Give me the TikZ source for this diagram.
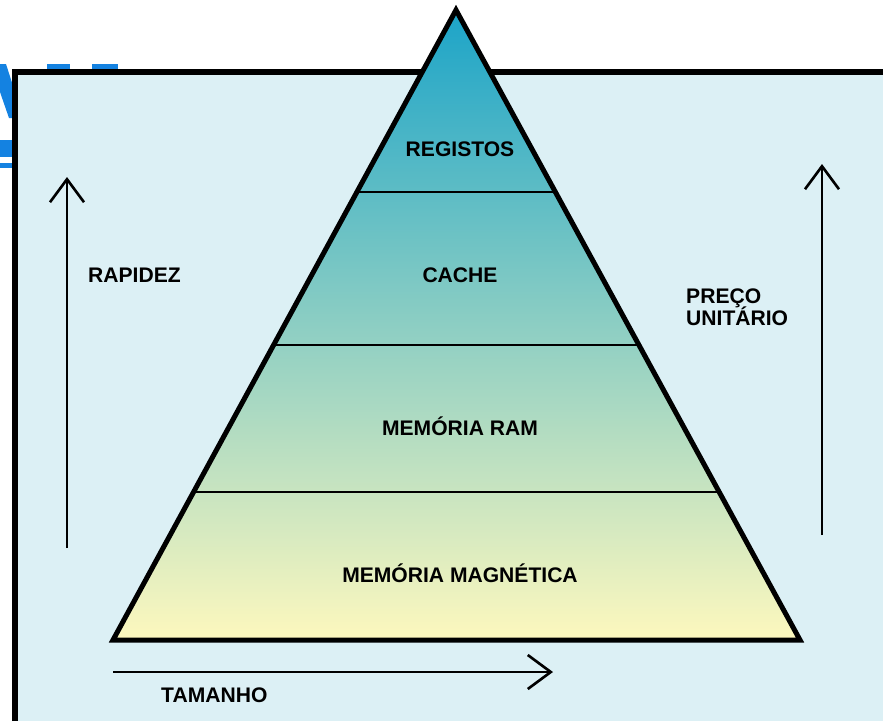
\documentclass[tikz,border=0pt]{standalone}
\usepackage{fontspec}
\setmainfont{Liberation Sans}
\usetikzlibrary{arrows.meta,calc}
\definecolor{paper}{RGB}{220,240,245}
\definecolor{tealtop}{RGB}{28,164,200}
\definecolor{tealmid}{RGB}{88,182,190}
\definecolor{sandlow}{RGB}{253,248,190}
\definecolor{titleblue}{RGB}{20,130,225}

\begin{document}
\begin{tikzpicture}[
    x=0.2mm, y=-0.2mm,
    >={Straight Barb[length=4.6mm, width=6.8mm]},
    levellabel/.style={font=\fontsize{12}{14}\selectfont\bfseries, anchor=base},
    sidelabel/.style={font=\fontsize{12}{14}\selectfont\bfseries, anchor=base west},
    axisarrow/.style={->, line width=1.5pt},
  ]
  \useasboundingbox (0,0) rectangle (883,721);

  % ========= PAGE REMAINS =========
  \fill[titleblue] (0,64) -- (6,64) -- (15,92) -- (15,118) -- (9,118) -- (0,92) -- cycle;
  \fill[titleblue] (47,64) rectangle (70,70);
  \fill[titleblue] (92,64) rectangle (118,70);
  \fill[titleblue] (0,140) rectangle (15,157);
  \fill[titleblue] (0,163) rectangle (15,168);

  % Panel
  \fill[paper] (15,72) rectangle (883,721);
  \draw[line width=2.85pt] (15,721) -- (15,72) -- (883,72);

  % ========= PYRAMID =========
  \coordinate (apex) at (456,10);
  \coordinate (baseL) at (113,640);
  \coordinate (baseR) at (800,640);

  \shade[top color=tealtop, middle color=tealmid, bottom color=sandlow]
    (apex) -- (baseR) -- (baseL) -- cycle;

  % Level borders
  \foreach \t in {0.289,0.532,0.765}
    \draw[line width=1.2pt] ($(apex)!\t!(baseL)$) -- ($(apex)!\t!(baseR)$);

  \draw[line width=2.85pt] (apex) -- (baseR) -- (baseL) -- cycle;

  \node[levellabel] (registos) at (460,156) {REGISTOS};
  \node[levellabel] (cache) at (460,282) {CACHE};
  \node[levellabel] (ram) at (460,435) {MEMÓRIA RAM};
  \node[levellabel] (magnetica) at (460,582) {MEMÓRIA MAGNÉTICA};

  % ========= AXES =========
  \coordinate (speedlow) at (67,548);
  \coordinate (speedhigh) at (67,177);
  \draw[axisarrow] (speedlow) -- (speedhigh);
  \node[sidelabel] (rapidez) at (82,282) {RAPIDEZ};

  \coordinate (pricelow) at (822,535);
  \coordinate (pricehigh) at (822,164);
  \draw[axisarrow] (pricelow) -- (pricehigh);
  \node[sidelabel] (preco) at (680,303) {PREÇO};
  \node[sidelabel] (unitario) at (680,325) {UNITÁRIO};

  \coordinate (sizelow) at (113,672);
  \coordinate (sizehigh) at (553,672);
  \draw[axisarrow] (sizelow) -- (sizehigh);
  \node[sidelabel] (tamanho) at (155,702) {TAMANHO};
\end{tikzpicture}
\end{document}
